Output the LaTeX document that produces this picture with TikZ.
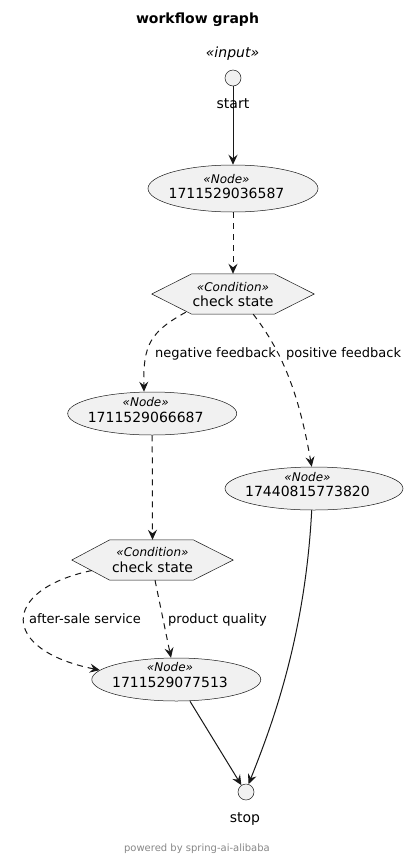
\documentclass[tikz,border=0pt]{standalone}
\usepackage{fontspec}
\setmainfont{DejaVu Sans}
\usetikzlibrary{arrows.meta,shapes.geometric,calc}
\definecolor{nodefill}{HTML}{F1F1F1}
\definecolor{nodeline}{HTML}{181818}
\definecolor{footgray}{HTML}{888888}
\tikzset{
  elnode/.style={ellipse, draw=nodeline, fill=nodefill, line width=0.5pt, inner sep=0pt},
  circnode/.style={circle, draw=nodeline, fill=nodefill, line width=0.5pt, inner sep=0pt, minimum size=16pt},
  hexbox/.style={inner sep=0pt, minimum width=162pt, minimum height=40pt},
  hexline/.style={draw=nodeline, fill=nodefill, line width=0.5pt},
  stereo/.style={font=\fontsize{12pt}{14pt}\itshape\selectfont, inner sep=0pt, anchor=base},
  mainlbl/.style={font=\fontsize{14pt}{16pt}\selectfont, inner sep=0pt, anchor=base},
  edgelbl/.style={font=\fontsize{13pt}{15pt}\selectfont, inner sep=0pt, anchor=base west},
  solidarrow/.style={draw=nodeline, line width=1pt, -{Stealth[length=10pt,width=9pt,inset=3.5pt]}},
  dasharrow/.style={solidarrow, dash pattern=on 6pt off 5pt},
}
\begin{document}
\begin{tikzpicture}[x=1pt,y=-1pt]
\useasboundingbox (0,0) rectangle (408,860);
\fill[white] (0,0) rectangle (408,860);

\node[font=\fontsize{14pt}{16pt}\bfseries\selectfont, inner sep=0pt, anchor=base] (title) at (197.5,23) {workflow graph};

% start
\node[font=\fontsize{14pt}{16pt}\itshape\selectfont, inner sep=0pt, anchor=base] (instereo) at (232.5,57) {«input»};
\node[circnode] (start) at (233,78) {};

% node 1
\node[elnode, minimum width=170pt, minimum height=47pt] (n1) at (233,188.5) {};
\node[stereo] (n1s) at (226.5,183) {«Node»};
\node[mainlbl] (n1t) at (226.5,198) {1711529036587};

% condition 1
\node[hexbox] (h1) at (233,294) {};
\path[hexline] (h1.west) -- ([xshift=40pt]h1.north west) -- ([xshift=-40pt]h1.north east) -- (h1.east) -- ([xshift=-40pt]h1.south east) -- ([xshift=40pt]h1.south west) -- cycle;
\node[stereo] (h1s) at (233,291) {«Condition»};
\node[mainlbl] (h1t) at (233,306.5) {check state};

% node 2
\node[elnode, minimum width=169pt, minimum height=43pt] (n2) at (152.2,413.5) {};
\node[stereo] (n2s) at (145.7,406) {«Node»};
\node[mainlbl] (n2t) at (145.7,422) {1711529066687};

% node 3
\node[elnode, minimum width=178pt, minimum height=43pt] (n3) at (314,488.5) {};
\node[stereo] (n3s) at (307.5,481) {«Node»};
\node[mainlbl] (n3t) at (307.5,496.5) {17440815773820};

% condition 2
\node[hexbox, minimum width=161pt] (h2) at (152.5,560) {};
\path[hexline] (h2.west) -- ([xshift=38pt]h2.north west) -- ([xshift=-40pt]h2.north east) -- (h2.east) -- ([xshift=-40pt]h2.south east) -- ([xshift=38pt]h2.south west) -- cycle;
\node[stereo] (h2s) at (152.5,556.5) {«Condition»};
\node[mainlbl] (h2t) at (152.5,572) {check state};

% node 4
\node[elnode, minimum width=169pt, minimum height=43pt] (n4) at (176.3,679.5) {};
\node[stereo] (n4s) at (170,671) {«Node»};
\node[mainlbl] (n4t) at (170,687.5) {1711529077513};

% stop
\node[circnode] (stop) at (246,792) {};

% edges
\draw[solidarrow] (start) -- (n1.north);
\node[mainlbl] (startlbl) at (233,108) {start};
\draw[dasharrow] (n1.south) -- (h1.north);
\draw[dasharrow] ([xshift=34pt,yshift=2pt]h1.south west) .. controls (150,332) and (143,345) .. ([xshift=-8.2pt]n2.north);
\node[edgelbl] (lneg) at (155,357) {negative feedback};
\draw[dasharrow] ([xshift=-61pt]h1.south east) .. controls (285,355) and (300,400) .. ([xshift=-2.3pt]n3.north);
\node[edgelbl] (lpos) at (286,357) {positive feedback};
\draw[dasharrow] (n2.south) -- (h2.north);
\draw[dasharrow] ([xshift=20pt,yshift=-10.5pt]h2.west) .. controls (0,590) and (0,650) .. (n4.173);
\node[edgelbl] (laft) at (29,623) {after-sale service};
\draw[dasharrow] ([xshift=2.5pt]h2.south) -- ([xshift=-5.3pt]n4.north);
\node[edgelbl] (lprod) at (168,623) {product quality};
\draw[solidarrow] ([xshift=13.7pt]n4.south) -- (stop.124);
\draw[solidarrow] ([xshift=-2.3pt]n3.south) .. controls (305,640) and (270,730) .. (stop.72);
\node[mainlbl] (stoplbl) at (245,822) {stop};

\node[font=\fontsize{10pt}{12pt}\selectfont, text=footgray, inner sep=0pt, anchor=base east] (foot) at (270,851) {powered by spring-ai-alibaba};
\end{tikzpicture}
\end{document}
